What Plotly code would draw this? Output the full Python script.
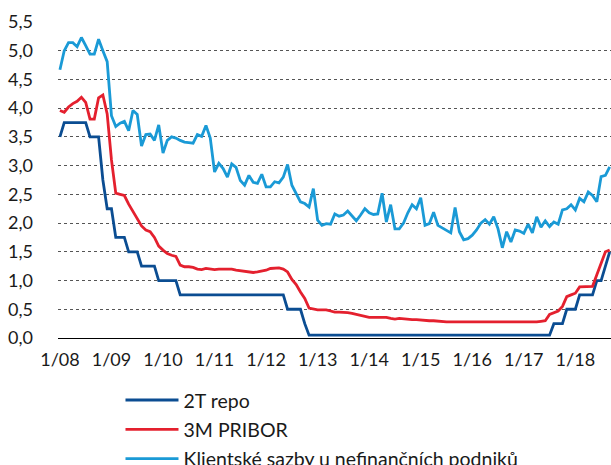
import plotly.graph_objects as go

tick_labels = ["1/08", "1/09", "1/10", "1/11", "1/12", "1/13", "1/14", "1/15", "1/16", "1/17", "1/18"]

repo_2t = [
    3.5, 3.75, 3.75, 3.75, 3.75, 3.75, 3.75, 3.5, 3.5, 3.5, 2.75, 2.25,
    2.25, 1.75, 1.75, 1.75, 1.5, 1.5, 1.5, 1.25, 1.25, 1.25, 1.25, 1.0,
    1.0, 1.0, 1.0, 1.0, 0.75, 0.75, 0.75, 0.75, 0.75, 0.75, 0.75, 0.75,
    0.75, 0.75, 0.75, 0.75, 0.75, 0.75, 0.75, 0.75, 0.75, 0.75, 0.75, 0.75,
    0.75, 0.75, 0.75, 0.75, 0.75, 0.5, 0.5, 0.5, 0.5, 0.25, 0.05, 0.05,
    0.05, 0.05, 0.05, 0.05, 0.05, 0.05, 0.05, 0.05, 0.05, 0.05, 0.05, 0.05,
    0.05, 0.05, 0.05, 0.05, 0.05, 0.05, 0.05, 0.05, 0.05, 0.05, 0.05, 0.05,
    0.05, 0.05, 0.05, 0.05, 0.05, 0.05, 0.05, 0.05, 0.05, 0.05, 0.05, 0.05,
    0.05, 0.05, 0.05, 0.05, 0.05, 0.05, 0.05, 0.05, 0.05, 0.05, 0.05, 0.05,
    0.05, 0.05, 0.05, 0.05, 0.05, 0.05, 0.05, 0.25, 0.25, 0.25, 0.5, 0.5,
    0.5, 0.75, 0.75, 0.75, 0.75, 1.0, 1.0, 1.25, 1.5,
]

pribor_3m = [
    3.96, 3.93, 4.02, 4.08, 4.12, 4.19, 4.10, 3.81, 3.81, 4.18, 4.23, 3.90,
    3.10, 2.52, 2.50, 2.48, 2.33, 2.20, 2.08, 1.95, 1.88, 1.85, 1.75, 1.60,
    1.53, 1.47, 1.44, 1.42, 1.27, 1.24, 1.24, 1.23, 1.20, 1.19, 1.21, 1.20,
    1.19, 1.20, 1.20, 1.21, 1.20, 1.18, 1.17, 1.16, 1.15, 1.14, 1.15, 1.16,
    1.18, 1.21, 1.22, 1.22, 1.20, 1.15, 1.02, 0.93, 0.80, 0.69, 0.52, 0.50,
    0.49, 0.49, 0.49, 0.47, 0.45, 0.45, 0.45, 0.44, 0.43, 0.41, 0.39, 0.37,
    0.36, 0.36, 0.36, 0.36, 0.36, 0.34, 0.33, 0.34, 0.33, 0.33, 0.32, 0.32,
    0.31, 0.31, 0.30, 0.30, 0.29, 0.29, 0.28, 0.28, 0.28, 0.28, 0.27, 0.27,
    0.27, 0.27, 0.28, 0.28, 0.28, 0.28, 0.28, 0.28, 0.28, 0.28, 0.28, 0.27,
    0.27, 0.28, 0.28, 0.28, 0.29, 0.30, 0.41, 0.44, 0.47, 0.55, 0.72, 0.75,
    0.78, 0.89, 0.89, 0.89, 0.90, 1.10, 1.30, 1.50, 1.53,
]

klientske_sazby = [
    4.67, 5.00, 5.14, 5.14, 5.07, 5.23, 5.09, 4.94, 4.94, 5.20, 5.00, 4.81,
    3.87, 3.68, 3.74, 3.77, 3.61, 3.96, 3.89, 3.34, 3.54, 3.55, 3.44, 3.71,
    3.22, 3.44, 3.50, 3.48, 3.44, 3.41, 3.40, 3.39, 3.54, 3.51, 3.70, 3.48,
    2.89, 3.04, 2.95, 2.80, 3.03, 2.97, 2.74, 2.66, 2.83, 2.71, 2.69, 2.85,
    2.63, 2.63, 2.72, 2.70, 2.80, 3.02, 2.66, 2.51, 2.37, 2.34, 2.28, 2.60,
    2.05, 1.96, 1.99, 1.98, 2.16, 2.12, 2.14, 2.21, 2.12, 2.04, 2.14, 2.25,
    2.18, 2.15, 2.16, 2.52, 2.02, 2.32, 1.90, 1.90, 2.00, 2.18, 2.32, 2.25,
    2.44, 1.96, 1.99, 2.19, 1.96, 1.92, 1.88, 1.83, 2.27, 1.85, 1.71, 1.73,
    1.79, 1.88, 2.00, 2.06, 1.98, 2.11, 1.90, 1.57, 1.85, 1.67, 1.88, 1.86,
    1.82, 1.98, 1.83, 2.11, 1.93, 2.04, 1.94, 2.02, 1.98, 2.23, 2.25, 2.32,
    2.23, 2.43, 2.37, 2.54, 2.48, 2.37, 2.81, 2.83, 2.98,
]

y_ticks = [0.0, 0.5, 1.0, 1.5, 2.0, 2.5, 3.0, 3.5, 4.0, 4.5, 5.0, 5.5]
y_tick_text = [f"{v:.1f}".replace(".", ",") for v in y_ticks]

months = list(range(len(repo_2t)))
tick_positions = [12 * i for i in range(len(tick_labels))]

FONT = "Lato, 'Open Sans', sans-serif"
FS = 18
LEG_FS = 19.5

fig = go.Figure()
series = [
    ("2T repo", repo_2t, "#0b4d92"),
    ("3M PRIBOR", pribor_3m, "#e4202e"),
    ("Klientské sazby u nefinančních podniků", klientske_sazby, "#1a9ad6"),
]
for i, (name, vals, color) in enumerate(series):
    fig.add_trace(go.Scatter(
        x=months, y=vals, mode="lines", name=name,
        line=dict(color=color, width=2.8),
        legendgroup=f"g{i}",
    ))

fig.update_layout(
    width=611, height=465,
    margin=dict(l=58, r=0, t=22, b=127, autoexpand=False),
    paper_bgcolor="white", plot_bgcolor="white",
    font=dict(family=FONT, size=FS, color="#1a1a1a"),
    showlegend=True,
    legend=dict(
        orientation="v", x=0.113, xanchor="left",
        yref="container", y=0.181, yanchor="top",
        font=dict(size=LEG_FS, color="#1a1a1a"), tracegroupgap=1,
        itemwidth=53, bgcolor="rgba(0,0,0,0)",
    ),
    xaxis=dict(
        range=[-0.45, 128.3], tickmode="array", tickvals=tick_positions,
        ticktext=tick_labels, showgrid=False, zeroline=False, automargin=False,
        showline=True, linecolor="#000000", linewidth=1.3, ticks="",
        ticklabelstandoff=5, tickfont=dict(size=FS),
    ),
    yaxis=dict(
        range=[0, 5.5], tickmode="array", tickvals=y_ticks, ticktext=y_tick_text,
        showgrid=True, gridcolor="#555555", gridwidth=1, griddash="dot",
        zeroline=False, showline=False, ticks="", ticklabelstandoff=24,
        automargin=False, tickfont=dict(size=FS),
    ),
)

# Remove the browser's default page margin so the 611x465 figure fills the window.
fig.write_html(
    "out.html",
    config={"displayModeBar": False},
    post_script="document.body.style.margin='0';document.documentElement.style.overflow='hidden';document.body.style.overflow='hidden';",
)
